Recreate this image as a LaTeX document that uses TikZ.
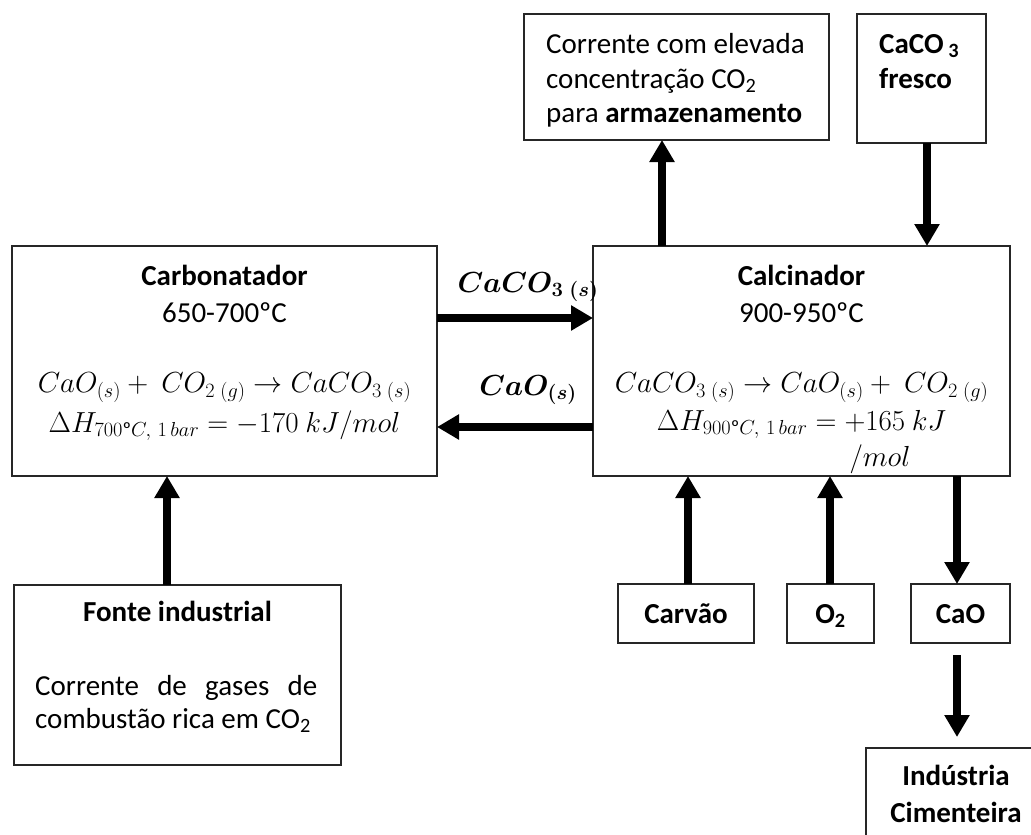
\RequirePackage{fix-cm}
\documentclass[tikz,border=0pt]{standalone}
\usepackage{amsmath}
\usepackage{fontspec}
\setmainfont{Carlito}
\usetikzlibrary{arrows.meta,calc}

\begin{document}
\begin{tikzpicture}[x=1pt,y=-1pt]
\tikzset{
  box/.style={draw=black!85, line width=1.5pt, inner sep=0pt, outer sep=0pt, anchor=north west},
  flow/.style={line width=8pt, -{Triangle[length=22pt,width=24pt]}},
  lbl/.style={inner sep=0pt, anchor=base, font=\fontsize{29}{35}\selectfont},
  lblL/.style={lbl, anchor=base west},
  bold/.style={font=\fontsize{29}{35}\selectfont\bfseries},
  eq/.style={inner sep=0pt, anchor=base, font=\fontsize{29}{35}\selectfont},
  beq/.style={inner sep=0pt, anchor=base, font=\fontsize{29}{35}\selectfont\boldmath}
}
\useasboundingbox (0,0) rectangle (1031,835);
\clip (0,0) rectangle (1031,835);

% process units and streams
\node[box, minimum width=425pt, minimum height=230pt] (carb) at (12,246) {};
\node[box, minimum width=417pt, minimum height=230pt] (calc) at (593,246) {};
\node[box, minimum width=305pt, minimum height=126pt] (store) at (524,14) {};
\node[box, minimum width=129pt, minimum height=129pt] (fresh) at (857,14) {};
\node[box, minimum width=327pt, minimum height=180pt] (fonte) at (14,585) {};
\node[box, minimum width=136pt, minimum height=59pt] (carvao) at (618,584) {};
\node[box, minimum width=87pt, minimum height=59pt] (oxy) at (787,584) {};
\node[box, minimum width=99pt, minimum height=59pt] (cao) at (911,584) {};
\node[box, minimum width=260pt, minimum height=150pt] (ind) at (866,748) {};

% carbonator
\node[lbl, bold] (carbA) at (224.5,285) {Carbonatador};
\node[lbl] (carbB) at (224.5,322) {650-700ºC};
\node[eq] (carbC) at (224.5,392) {$CaO_{(s)} +\ CO_{2\;(g)} \rightarrow CaCO_{3\;(s)}$};
\node[eq] (carbD) at (224.5,432) {$\Delta H_{700\text{º}C,\ 1\,bar} = -170\ kJ/mol$};

% calciner
\node[lbl, bold] (calcA) at (801.5,285) {Calcinador};
\node[lbl] (calcB) at (801.5,322) {900-950ºC};
\node[eq] (calcC) at (801.5,392) {$CaCO_{3\;(s)} \rightarrow CaO_{(s)} +\ CO_{2\;(g)}$};
\node[eq] (calcD) at (801.5,430) {$\Delta H_{900\text{º}C,\ 1\,bar} = +165\ kJ$};
\node[eq] (calcE) at (880,466) {$/mol$};

% storage stream
\node[lblL] (storeA) at (546,53) {Corrente com elevada};
\node[lblL] (storeB) at (546,88) {concentração CO\textsubscript{2}};
\node[lblL] (storeC) at (546,122) {para \textbf{armazenamento}};

% fresh limestone
\node[lblL, bold] (freshA) at (879,53) {CaCO\,\textsubscript{3}};
\node[lblL, bold] (freshB) at (879,88) {fresco};

% flue gas source
\node[lbl, bold] (fonteA) at (177.5,621) {Fonte industrial};
\node[lblL] (fonteB) at (35,695) {\makebox[282pt][s]{Corrente de gases de}};
\node[lblL] (fonteC) at (35,728) {combustão rica em CO\textsubscript{2}};

% small feeds / products
\node[lbl, bold] (carvaoT) at (686,623) {Carvão};
\node[lbl, bold] (oxyT) at (830.5,623) {O\textsubscript{2}};
\node[lbl, bold] (caoT) at (960.5,623) {CaO};
\node[lbl, bold] (indA) at (956,785) {Indústria};
\node[lbl, bold] (indB) at (956,822) {Cimenteira};

% solid circulation labels
\node[beq] (solA) at (528,292) {$CaCO_{3\;(s)}$};
\node[beq] (solB) at (528,395) {$CaO_{(s)}$};

% stream positions
\coordinate (xs) at (662,0);
\coordinate (xf) at (927,0);
\coordinate (xi) at (167,0);
\coordinate (xc) at (688,0);
\coordinate (xo) at (830,0);
\coordinate (xk) at (957,0);

% connectors
\draw[flow] ($(carb.north east)+(0,72)$) -- ($(calc.north west)+(0,72)$);
\draw[flow] ($(calc.north west)+(0,181)$) -- ($(carb.north east)+(0,181)$);
\draw[flow] (calc.north -| xs) -- (store.south -| xs);
\draw[flow] (fresh.south -| xf) -- (calc.north -| xf);
\draw[flow] (fonte.north -| xi) -- (carb.south -| xi);
\draw[flow] (carvao.north -| xc) -- (calc.south -| xc);
\draw[flow] (oxy.north -| xo) -- (calc.south -| xo);
\draw[flow] (calc.south -| xk) -- (cao.north -| xk);
\draw[flow, shorten <=12pt, shorten >=11pt] (cao.south -| xk) -- (ind.north -| xk);
\end{tikzpicture}
\end{document}
